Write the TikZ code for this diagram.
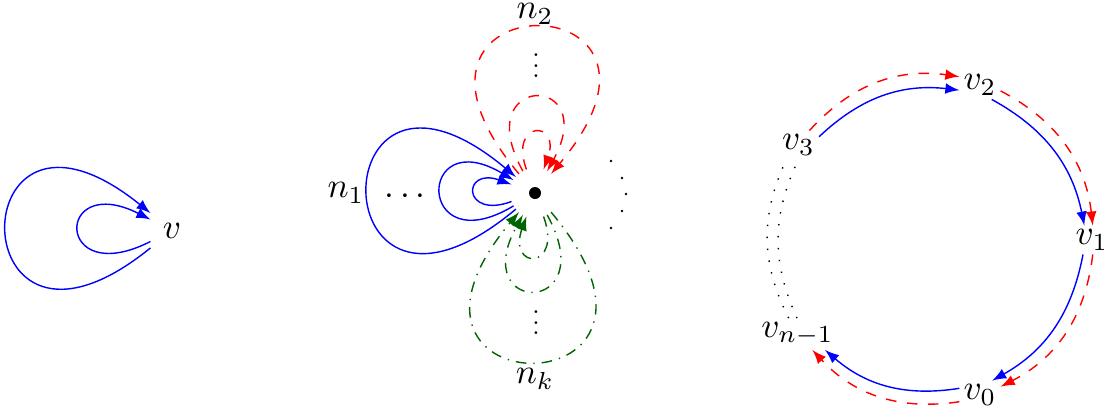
\documentclass[tikz,border=0pt]{standalone}
\definecolor{darkgreen}{RGB}{0,100,0}

\begin{document}
\begin{tikzpicture}[>=latex,
        loopb/.style = {->, blue},
        loopr/.style = {->, red, dashed},
        loopg/.style = {->, darkgreen, dashdotted},
        hub/.style = {circle, fill, inner sep=0pt, minimum size=1.2mm, outer sep=1.9mm},
        cyc/.style = {inner sep=1pt},
        dotarc/.style = {dash pattern=on \pgflinewidth off 3pt}]
        \useasboundingbox (0,0) rectangle (11.04,4.09);

        % one vertex, two loops
        \node (v) at (1.72,1.785) {$v$};
        \draw[loopb] (v) to[out=-141, in=141, distance=2.48cm] (v);
        \draw[loopb] (v) to[out=-153, in=153, distance=1.08cm] (v);

        % flower of loops
        \node[hub] (c) at (5.35,2.16) {};
        \node (n1) at (3.46,2.16) {$n_1$};
        \node (hd) at (4.05,2.12) {$\cdots$};
        \node (n2) at (5.35,3.95) {$n_2$};
        \node[scale=0.75] (vd2) at (5.36,3.51) {$\vdots$};
        \node (nk) at (5.35,0.30) {$n_k$};
        \node[scale=0.75] (vdk) at (5.36,0.94) {$\vdots$};
        \foreach \p in {(6.11,2.48),(6.22,2.31),(6.26,2.15),(6.22,1.98),(6.11,1.81)}
            \fill \p circle (0.4pt);

        \draw[loopb] (c) to[out=-140, in=140, distance=2.59cm] (c);
        \draw[loopb] (c) to[out=-149, in=149, distance=1.14cm] (c);
        \draw[loopb] (c) to[out=-160, in=160, distance=0.53cm] (c);
        \draw[loopr] (c) to[out=130, in=50, distance=2.56cm] (c);
        \draw[loopr] (c) to[out=119, in=61, distance=1.13cm] (c);
        \draw[loopr] (c) to[out=110, in=70, distance=0.53cm] (c);
        \draw[loopg] (c) to[out=-50, in=-130, distance=2.61cm] (c);
        \draw[loopg] (c) to[out=-61, in=-119, distance=1.16cm] (c);
        \draw[loopg] (c) to[out=-70, in=-110, distance=0.575cm] (c);

        % cycle
        \node[cyc] (v2) at (9.80,3.24) {$v_2$};
        \node[cyc] (v3) at (7.985,2.64) {$v_3$};
        \node[cyc] (v1) at (10.92,1.69) {$v_1$};
        \node[cyc] (v0) at (9.80,0.14) {$v_0$};
        \node[cyc] (vn) at (7.975,0.75) {$v_{n-1}$};

        \draw[->, blue] (v3.22) to[bend left=25] (v2.194);
        \draw[->, blue] (v2.-51) to[bend left=25] (v1.118);
        \draw[->, blue] (v1.-122) to[bend left=25] (v0.50);
        \draw[->, blue] (v0.162) to[bend left=25] (vn.-30);
        \draw[->, red, dashed] (v3.53) to[bend left=28] (v2.158);
        \draw[->, red, dashed] (v2.-16) to[bend left=28] (v1.87);
        \draw[->, red, dashed] (v1.-87) to[bend left=28] (v0.22);
        \draw[->, red, dashed] (v0.198) to[bend left=28] (vn.-47);
        \draw[dotarc] (vn.92) to[bend left=25] (v3.-90);
        \draw[dotarc] (vn.119) to[bend left=26] (v3.-130);
\end{tikzpicture}
\end{document}
